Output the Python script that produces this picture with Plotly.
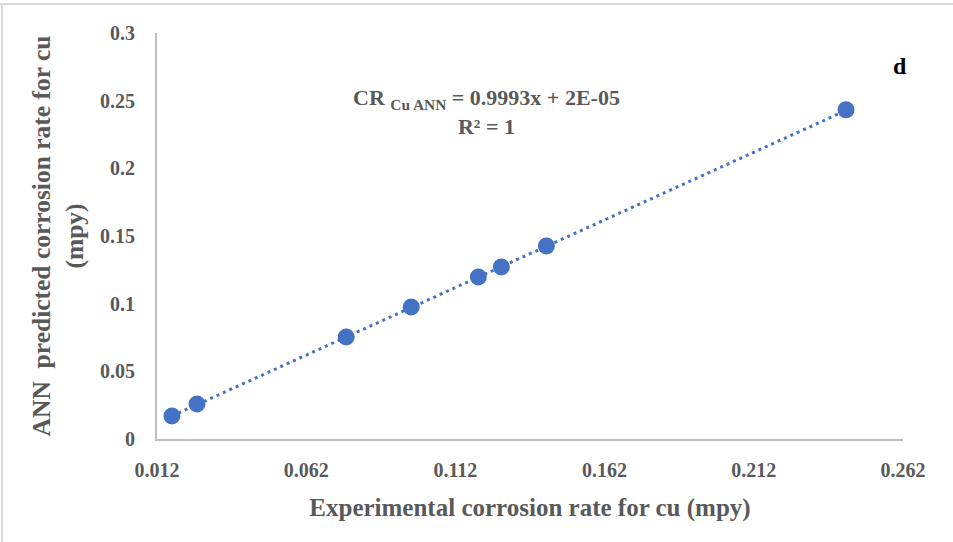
import plotly.graph_objects as go

# Data
experimental = [0.017, 0.0254, 0.0754, 0.0972, 0.1197, 0.1274, 0.1425, 0.2429]
predicted = [0.017, 0.0259, 0.0754, 0.0976, 0.1197, 0.1271, 0.1426, 0.2432]
slope = 0.9993
intercept = 0.00002
x_ticks = [0.012, 0.062, 0.112, 0.162, 0.212, 0.262]
y_ticks = [0, 0.05, 0.1, 0.15, 0.2, 0.25, 0.3]

blue = "#4472C4"
grey = "#595959"
font_fam = "Liberation Serif"

trend_x = [min(experimental), max(experimental)]
trend_y = [slope * v + intercept for v in trend_x]

fig = go.Figure()
fig.add_trace(go.Scatter(x=trend_x, y=trend_y, mode="lines",
                         line=dict(color=blue, width=3, dash="3px,4px"),
                         hoverinfo="skip", showlegend=False))
fig.add_trace(go.Scatter(x=experimental, y=predicted, mode="markers",
                         marker=dict(color=blue, size=17), showlegend=False))

fig.update_layout(
    width=953, height=542,
    margin=dict(l=157, r=50, t=33, b=103),
    paper_bgcolor="white", plot_bgcolor="white",
    font=dict(family=font_fam, color=grey),
    xaxis=dict(range=[0.012, 0.262], tickvals=x_ticks,
               ticktext=[f"{v:.3f}" for v in x_ticks],
               showgrid=False, zeroline=False, showline=True,
               linecolor="#bfbfbf", linewidth=2, ticks="",
               ticklabelstandoff=12,
               tickfont=dict(family=font_fam, size=20, color=grey, weight="bold"),
               title=dict(text="Experimental corrosion rate for cu (mpy)",
                          font=dict(family=font_fam, size=25, color=grey, weight="bold"),
                          standoff=18)),
    yaxis=dict(range=[0, 0.3], tickvals=y_ticks,
               ticktext=["0", "0.05", "0.1", "0.15", "0.2", "0.25", "0.3"],
               showgrid=False, zeroline=False, showline=True,
               linecolor="#bfbfbf", linewidth=2, ticks="",
               ticklabelstandoff=16,
               tickfont=dict(family=font_fam, size=20, color=grey, weight="bold"),
               title=dict(text="ANN  predicted corrosion rate for cu<br>(mpy)",
                          font=dict(family=font_fam, size=25.5, color=grey, weight="bold"),
                          standoff=9)),
    annotations=[
        dict(xref="paper", yref="paper", x=(486 - 157) / 746, y=1 - (112 - 33) / 406,
             xanchor="center", yanchor="middle",
             text="<b>CR <sub>Cu ANN</sub> = 0.9993x + 2E-05<br>R² = 1</b>",
             showarrow=False, align="center",
             font=dict(family=font_fam, size=22, color=grey)),
        dict(xref="paper", yref="paper", x=(900 - 157) / 746, y=1 - (66 - 33) / 406,
             xanchor="center", yanchor="middle",
             text="<b>d</b>", showarrow=False,
             font=dict(family=font_fam, size=24, color="black")),
    ],
    shapes=[
        dict(type="line", xref="paper", yref="paper", x0=-155 / 746, x1=-155 / 746,
             y0=1 + 29 / 406, y1=-103 / 406, line=dict(color="#d9d9d9", width=2)),
        dict(type="line", xref="paper", yref="paper", x0=-157 / 746, x1=1 + 50 / 746,
             y0=1 + 29 / 406, y1=1 + 29 / 406, line=dict(color="#d9d9d9", width=2)),
    ],
)

fig.write_html("out.html")
